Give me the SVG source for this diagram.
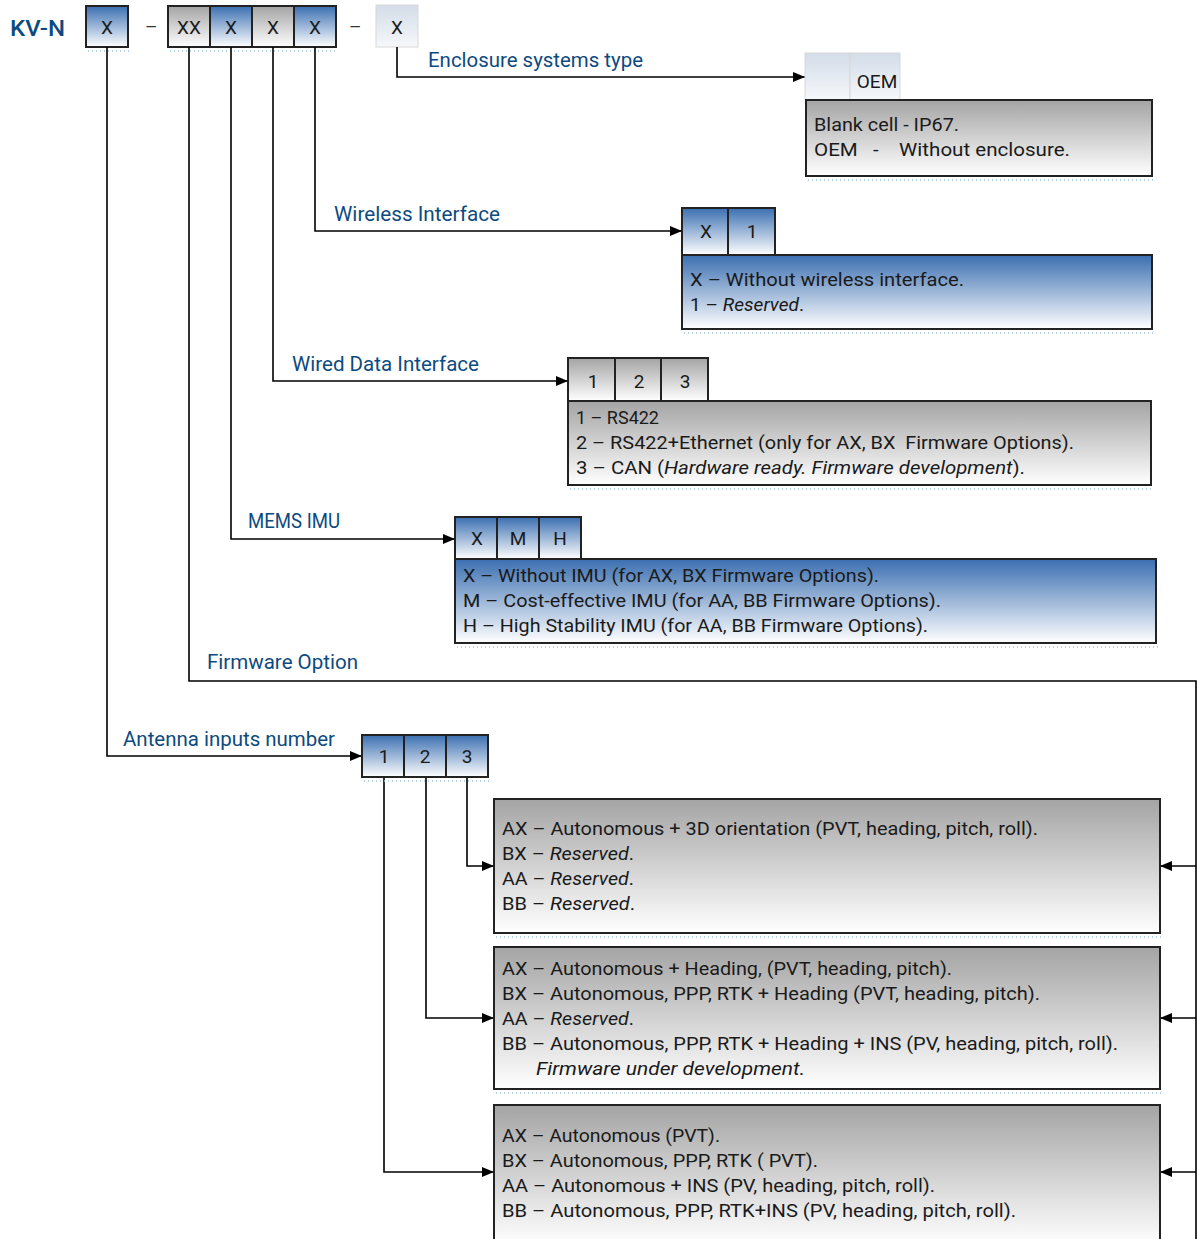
<svg xmlns="http://www.w3.org/2000/svg" width="1197" height="1239" viewBox="0 0 1197 1239">
<defs>
<linearGradient id="gBlue" x1="0" y1="0" x2="0" y2="1"><stop offset="0" stop-color="#3b6fb1"/><stop offset="1" stop-color="#ffffff"/></linearGradient>
<linearGradient id="gGray" x1="0" y1="0" x2="0" y2="1"><stop offset="0" stop-color="#a4a4a4"/><stop offset="1" stop-color="#ffffff"/></linearGradient>
<linearGradient id="gLight" x1="0" y1="0" x2="0" y2="1"><stop offset="0" stop-color="#d3dce8"/><stop offset="1" stop-color="#f6f8fb"/></linearGradient>
<marker id="arr" viewBox="0 0 12 10" refX="12" refY="5" markerWidth="12" markerHeight="10" markerUnits="userSpaceOnUse" orient="auto"><path d="M0,0 L12,5 L0,10 z" fill="#000"/></marker>
</defs>
<style>
text{font-family:"Roboto","Liberation Sans",sans-serif;}
.cell{stroke:#222;stroke-width:2;}
.blue{fill:url(#gBlue);}
.gray{fill:url(#gGray);}
.light{fill:url(#gLight);stroke:#d8d8d8;stroke-width:1;}
.ct{font-size:19px;fill:#1a1a1a;text-anchor:middle;}
.dt{font-size:19px;fill:#1a1a1a;}
.lbl{font-size:19.5px;fill:#0d4a80;}
.con{fill:none;stroke:#000;stroke-width:1.6;}
.dash{font-size:19px;fill:#333;}
.sh{fill:none;stroke:#9cc3e0;stroke-width:1.5;stroke-dasharray:1 3;}
</style>
<rect width="1197" height="1239" fill="#fff"/>

<g id="code">
<text x="10" y="36" font-size="22" font-weight="500" fill="#0d4a80" textLength="55" lengthAdjust="spacingAndGlyphs">KV-N</text>
<rect class="cell blue" x="86" y="6" width="42" height="41"/><text class="ct" x="107" y="34">X</text>
<text class="dash" x="145" y="33">–</text>
<rect class="cell gray" x="168" y="6" width="42" height="41"/><text class="ct" x="189" y="34">XX</text>
<rect class="cell blue" x="210" y="6" width="42" height="41"/><text class="ct" x="231" y="34">X</text>
<rect class="cell gray" x="252" y="6" width="42" height="41"/><text class="ct" x="273" y="34">X</text>
<rect class="cell blue" x="294" y="6" width="42" height="41"/><text class="ct" x="315" y="34">X</text>
<text class="dash" x="349" y="33">–</text>
<rect class="light" x="376" y="5" width="42" height="42"/><text class="ct" x="397" y="34">X</text>
<path class="sh" d="M88,51 H130 M170,51 H338"/>
</g>

<g id="connectors">
<path class="con" d="M397,47 V77 H805" marker-end="url(#arr)"/>
<path class="con" d="M315,47 V231 H682" marker-end="url(#arr)"/>
<path class="con" d="M273,47 V381 H568" marker-end="url(#arr)"/>
<path class="con" d="M231,47 V539 H455" marker-end="url(#arr)"/>
<path class="con" d="M189,47 V681 H1196 V1239"/>
<path class="con" d="M107,47 V756 H362" marker-end="url(#arr)"/>
<path class="con" d="M467,777 V866 H494" marker-end="url(#arr)"/>
<path class="con" d="M426,777 V1018 H494" marker-end="url(#arr)"/>
<path class="con" d="M384,777 V1172 H494" marker-end="url(#arr)"/>
<path class="con" d="M1196,866 H1160" marker-end="url(#arr)"/>
<path class="con" d="M1196,1018 H1160" marker-end="url(#arr)"/>
<path class="con" d="M1196,1172 H1160" marker-end="url(#arr)"/>
</g>

<g id="labels">
<text class="lbl" x="428" y="67" textLength="215" lengthAdjust="spacingAndGlyphs">Enclosure systems type</text>
<text class="lbl" x="334" y="221" textLength="166" lengthAdjust="spacingAndGlyphs">Wireless Interface</text>
<text class="lbl" x="292" y="371" textLength="187" lengthAdjust="spacingAndGlyphs">Wired Data Interface</text>
<text class="lbl" x="248" y="528" textLength="92" lengthAdjust="spacingAndGlyphs">MEMS IMU</text>
<text class="lbl" x="207" y="669" textLength="151" lengthAdjust="spacingAndGlyphs">Firmware Option</text>
<text class="lbl" x="123" y="746" textLength="212" lengthAdjust="spacingAndGlyphs">Antenna inputs number</text>
</g>

<g id="enclosure">
<rect class="light" x="805" y="53" width="45" height="47"/>
<rect class="light" x="850" y="53" width="50" height="47"/>
<text class="ct" x="877" y="88">OEM</text>
<rect class="cell gray" x="806" y="100" width="346" height="76"/>
<text class="dt" x="814" y="131" textLength="145" lengthAdjust="spacingAndGlyphs">Blank cell - IP67.</text>
<text class="dt" x="814" y="156" xml:space="preserve" textLength="256" lengthAdjust="spacingAndGlyphs">OEM   -    Without enclosure.</text>
<path class="sh" d="M808,180 H1154"/>
</g>

<g id="wireless">
<rect class="cell blue" x="682" y="208" width="46" height="47"/><text class="ct" x="706" y="238">X</text>
<rect class="cell blue" x="728" y="208" width="47" height="47"/><text class="ct" x="752" y="238">1</text>
<rect class="cell blue" x="682" y="255" width="470" height="74"/>
<text class="dt" x="690" y="286" textLength="274" lengthAdjust="spacingAndGlyphs">X – Without wireless interface.</text>
<text class="dt" x="690" y="311" textLength="114" lengthAdjust="spacingAndGlyphs">1 – <tspan font-style="italic">Reserved</tspan>.</text>
<path class="sh" d="M684,333 H1154"/>
</g>

<g id="wired">
<rect class="cell gray" x="568" y="358" width="47" height="43"/><text class="ct" x="593" y="388">1</text>
<rect class="cell gray" x="615" y="358" width="46" height="43"/><text class="ct" x="639" y="388">2</text>
<rect class="cell gray" x="661" y="358" width="47" height="43"/><text class="ct" x="685" y="388">3</text>
<rect class="cell gray" x="568" y="401" width="583" height="84"/>
<text class="dt" x="576" y="424" textLength="83" lengthAdjust="spacingAndGlyphs">1 – RS422</text>
<text class="dt" x="576" y="449" xml:space="preserve" textLength="498" lengthAdjust="spacingAndGlyphs">2 – RS422+Ethernet (only for AX, BX  Firmware Options).</text>
<text class="dt" x="576" y="474" textLength="449" lengthAdjust="spacingAndGlyphs">3 – CAN (<tspan font-style="italic">Hardware ready. Firmware development</tspan>).</text>
<path class="sh" d="M570,489 H1153"/>
</g>

<g id="mems">
<rect class="cell blue" x="455" y="517" width="42" height="42"/><text class="ct" x="477" y="545">X</text>
<rect class="cell blue" x="497" y="517" width="42" height="42"/><text class="ct" x="518" y="545">M</text>
<rect class="cell blue" x="539" y="517" width="42" height="42"/><text class="ct" x="560" y="545">H</text>
<rect class="cell blue" x="455" y="559" width="701" height="84"/>
<text class="dt" x="463" y="582" textLength="416" lengthAdjust="spacingAndGlyphs">X – Without IMU (for AX, BX Firmware Options).</text>
<text class="dt" x="463" y="607" textLength="478" lengthAdjust="spacingAndGlyphs">M – Cost-effective IMU (for AA, BB Firmware Options).</text>
<text class="dt" x="463" y="632" textLength="465" lengthAdjust="spacingAndGlyphs">H – High Stability IMU (for AA, BB Firmware Options).</text>
<path class="sh" d="M457,647 H1158"/>
</g>

<g id="antenna">
<rect class="cell blue" x="362" y="735" width="42" height="42"/><text class="ct" x="384" y="763">1</text>
<rect class="cell blue" x="404" y="735" width="42" height="42"/><text class="ct" x="425" y="763">2</text>
<rect class="cell blue" x="446" y="735" width="42" height="42"/><text class="ct" x="467" y="763">3</text>
<path class="sh" d="M364,781 H490"/>
</g>

<g id="fw3">
<rect class="cell gray" x="494" y="799" width="666" height="134"/>
<text class="dt" x="502" y="835" textLength="536" lengthAdjust="spacingAndGlyphs">AX – Autonomous + 3D orientation (PVT, heading, pitch, roll).</text>
<text class="dt" x="502" y="860" textLength="132" lengthAdjust="spacingAndGlyphs">BX – <tspan font-style="italic">Reserved</tspan>.</text>
<text class="dt" x="502" y="885" textLength="132" lengthAdjust="spacingAndGlyphs">AA – <tspan font-style="italic">Reserved</tspan>.</text>
<text class="dt" x="502" y="910" textLength="133" lengthAdjust="spacingAndGlyphs">BB – <tspan font-style="italic">Reserved</tspan>.</text>
<path class="sh" d="M496,937 H1162"/>
</g>

<g id="fw2">
<rect class="cell gray" x="494" y="947" width="666" height="142"/>
<text class="dt" x="502" y="975" textLength="450" lengthAdjust="spacingAndGlyphs">AX – Autonomous + Heading, (PVT, heading, pitch).</text>
<text class="dt" x="502" y="1000" textLength="538" lengthAdjust="spacingAndGlyphs">BX – Autonomous, PPP, RTK + Heading (PVT, heading, pitch).</text>
<text class="dt" x="502" y="1025" textLength="132" lengthAdjust="spacingAndGlyphs">AA – <tspan font-style="italic">Reserved</tspan>.</text>
<text class="dt" x="502" y="1050" textLength="616" lengthAdjust="spacingAndGlyphs">BB – Autonomous, PPP, RTK + Heading + INS (PV, heading, pitch, roll).</text>
<text class="dt" x="536" y="1075" font-style="italic" textLength="269" lengthAdjust="spacingAndGlyphs">Firmware under development.</text>
<path class="sh" d="M496,1093 H1162"/>
</g>

<g id="fw1">
<rect class="cell gray" x="494" y="1105" width="666" height="140"/>
<text class="dt" x="502" y="1142" textLength="218" lengthAdjust="spacingAndGlyphs">AX – Autonomous (PVT).</text>
<text class="dt" x="502" y="1167" textLength="316" lengthAdjust="spacingAndGlyphs">BX – Autonomous, PPP, RTK ( PVT).</text>
<text class="dt" x="502" y="1192" textLength="433" lengthAdjust="spacingAndGlyphs">AA – Autonomous + INS (PV, heading, pitch, roll).</text>
<text class="dt" x="502" y="1217" textLength="514" lengthAdjust="spacingAndGlyphs">BB – Autonomous, PPP, RTK+INS (PV, heading, pitch, roll).</text>
</g>
</svg>
